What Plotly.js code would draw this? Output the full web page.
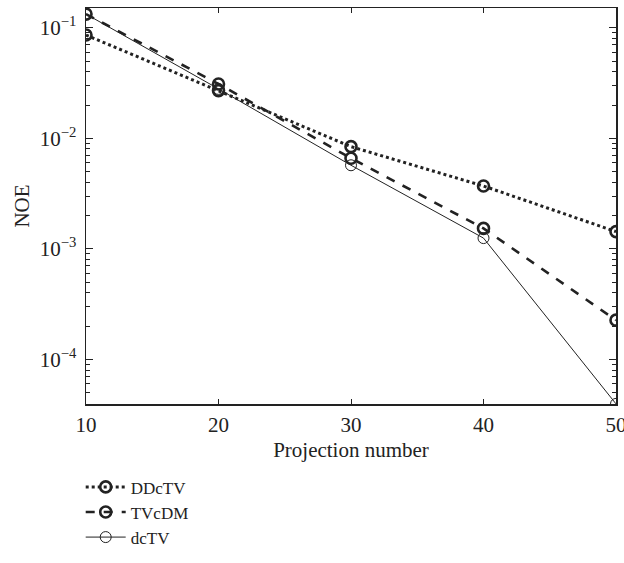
<!DOCTYPE html>
<html>
<head>
<meta charset="utf-8">
<script src="https://cdn.plot.ly/plotly-3.0.1.min.js"></script>
<style>html,body{margin:0;padding:0;background:#fff;}#chart{width:624px;height:563px;}</style>
</head>
<body>
<div id="chart"></div>
<script>
const projections = [10, 20, 30, 40, 50];
const ddctv = [0.086, 0.027, 0.0084, 0.0037, 0.00143];
const tvcdm = [0.133, 0.031, 0.0066, 0.00153, 0.000226];
const dctv  = [0.133, 0.028, 0.0057, 0.00125, 0.0000395];
const yTickVals = [1e-4, 1e-3, 1e-2, 1e-1];
const yTickText = ['10<sup>−4</sup>', '10<sup>−3</sup>', '10<sup>−2</sup>', '10<sup>−1</sup>'];
const xTickVals = [10, 20, 30, 40, 50];

const font = {family: 'Liberation Serif, DejaVu Serif, serif', size: 21, color: '#222'};
const legFont = {family: 'Liberation Serif, DejaVu Serif, serif', size: 17, color: '#222'};

const traces = [
  {x: projections, y: ddctv, name: 'DDcTV', mode: 'lines+markers',
   line: {color: '#222', width: 3, dash: 'dot'},
   marker: {symbol: 'circle-open', size: 11, color: '#222', line: {width: 2.6, color: '#222'}}},
  {x: projections, y: tvcdm, name: 'TVcDM', mode: 'lines+markers',
   line: {color: '#222', width: 2.6, dash: 'dash'},
   marker: {symbol: 'circle-open', size: 11, color: '#222', line: {width: 2.6, color: '#222'}}},
  {x: projections, y: dctv, name: 'dcTV', mode: 'lines+markers',
   line: {color: '#222', width: 1},
   marker: {symbol: 'circle-open', size: 11, color: '#222', line: {width: 1, color: '#222'}}}
];

const layout = {
  width: 624, height: 563,
  margin: {l: 86, r: 8, t: 8, b: 156},
  paper_bgcolor: '#fff', plot_bgcolor: '#fff',
  font: font,
  showlegend: true,
  legend: {x: -0.01, y: -0.165, xanchor: 'left', yanchor: 'top', font: legFont,
           bgcolor: 'rgba(0,0,0,0)', tracegroupgap: 0, itemwidth: 40},
  xaxis: {
    range: [10, 50.0001], tickvals: xTickVals, ticks: 'inside', ticklen: 5, tickwidth: 1,
    tickcolor: '#222', showline: true, linecolor: '#222', linewidth: 1.5, mirror: 'ticks',
    showgrid: false, zeroline: false, tickfont: font, ticklabeloverflow: 'allow',
    ticklabelstandoff: 1, automargin: false,
    title: {text: 'Projection number', font: font, standoff: 6}
  },
  yaxis: {
    type: 'log', range: [Math.log10(3.94e-5), Math.log10(0.151)],
    tickvals: yTickVals, ticktext: yTickText, ticks: 'inside', ticklen: 7, tickwidth: 1,
    tickcolor: '#222', showline: true, linecolor: '#222', linewidth: 1.5, mirror: 'ticks',
    showgrid: false, zeroline: false, tickfont: font, ticklabelstandoff: 4, automargin: false,
    minor: {ticks: 'inside', ticklen: 4, tickcolor: '#222', dtick: 'D1', showgrid: false},
    title: {text: 'NOE', font: font, standoff: 4}
  }
};

Plotly.newPlot('chart', traces, layout, {displayModeBar: false, staticPlot: true});
</script>
</body>
</html>
